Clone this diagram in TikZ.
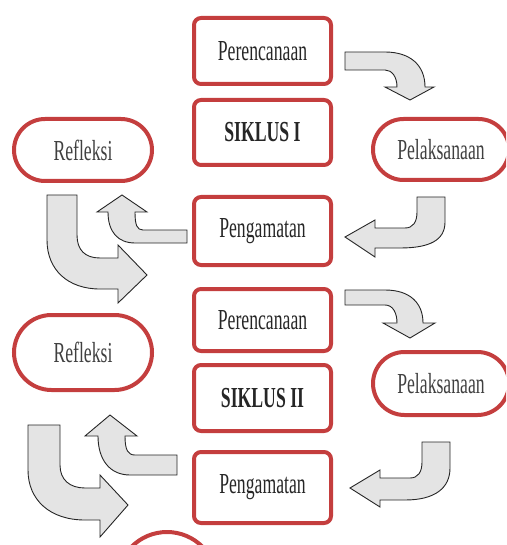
\documentclass[tikz,border=0pt]{standalone}
\usepackage{fontspec}
\setmainfont{Liberation Serif}[FakeStretch=0.61]
\usepackage{tikz}
\usetikzlibrary{shapes,shapes.misc,arrows,positioning}
\definecolor{merah}{RGB}{196,62,62}
\definecolor{abu}{RGB}{228,228,228}

\begin{document}
\begin{tikzpicture}[x=1pt,y=-1pt,
	kotak/.style={draw=merah,line width=4pt,rounded corners=7pt,minimum width=137pt,minimum height=66pt,inner sep=0pt,font=\fontsize{29}{32}\selectfont,text=black!85},
	bulat/.style={rounded rectangle,draw=merah,line width=4pt,minimum width=137pt,minimum height=62pt,inner sep=0pt,font=\fontsize{29}{32}\selectfont,text=black!75},
	panah/.style={fill=abu,draw=black!85,line width=0.9pt,line join=miter}]
				\path[use as bounding box] (0,0) rectangle (506,545);
				\clip (0,0) rectangle (506,545);
				% siklus I
				\node[kotak,minimum height=66pt] (rencana1) at (262.5,51) {Perencanaan};
				\node[kotak,minimum height=65pt] (siklus1) at (262.5,132.5) {\bfseries SIKLUS I};
				\node[kotak,minimum height=68pt] (amat1) at (262.5,231) {Pengamatan};
				\node[bulat,minimum width=138pt] (refleksi1) at (83,150) {Refleksi};
				\node[bulat,minimum width=136pt,minimum height=61pt] (laksana1) at (441,149.5) {Pelaksanaan};
				\draw[panah] (345,52)--(385,52) .. controls (410,52) and (425,65) .. (425,87)--(434,87)--(410,100)--(385,87)--(397,87) .. controls (397,77) and (392,70) .. (385,70)--(345,70)--cycle;
				\draw[panah] (417,197)--(445,197)--(445,222) .. controls (445,240) and (430,248) .. (400,248)--(375,248)--(375,257)--(345,237)--(375,220)--(375,228)--(405,228) .. controls (413,228) and (417,222) .. (417,212)--cycle;
				\draw[panah] (187,230)--(143,230) .. controls (137,230) and (135,225) .. (135,212)--(147,212)--(122,195)--(97,212)--(108,212) .. controls (108,232) and (118,243) .. (135,243)--(187,243)--cycle;
				\draw[panah] (47,195)--(77,195)--(77,235) .. controls (77,250) and (85,258) .. (100,258)--(118,258)--(118,245)--(147,275)--(118,303)--(118,289)--(100,289) .. controls (68,289) and (47,270) .. (47,240)--cycle;
				% siklus II
				\node[kotak,minimum height=62pt] (rencana2) at (262.5,320) {Perencanaan};
				\node[kotak,minimum height=66pt] (siklus2) at (262.5,398) {\bfseries SIKLUS II};
				\node[kotak,minimum height=71pt] (amat2) at (262.5,487.5) {Pengamatan};
				\node[bulat,minimum width=138pt,minimum height=75pt] (refleksi2) at (83,352.5) {Refleksi};
				\node[bulat,minimum width=136pt,minimum height=63pt] (laksana2) at (441,383.5) {Pelaksanaan};
				\draw[panah] (345,290)--(385,290) .. controls (410,290) and (423,303) .. (423,323)--(435,323)--(410,338)--(383,323)--(397,323) .. controls (397,313) and (393,305) .. (385,305)--(345,305)--cycle;
				\draw[panah] (422,442)--(450,442)--(450,468) .. controls (450,488) and (435,500) .. (405,500)--(380,500)--(380,507)--(350,488)--(380,470)--(380,478)--(410,478) .. controls (418,478) and (422,472) .. (422,462)--cycle;
				\draw[panah] (177,455)--(135,455) .. controls (128,455) and (125,450) .. (125,436)--(137,436)--(110,415)--(85,436)--(98,436) .. controls (98,460) and (110,475) .. (130,475)--(177,475)--cycle;
				\draw[panah] (28,425)--(60,425)--(60,465) .. controls (60,480) and (70,488) .. (85,488)--(100,488)--(100,475)--(128,505)--(100,537)--(100,520)--(85,520) .. controls (50,520) and (28,500) .. (28,470)--cycle;
				% siklus III (terpotong)
				\draw[merah,line width=4pt] (167,582) circle (50pt);
\end{tikzpicture}
\end{document}
